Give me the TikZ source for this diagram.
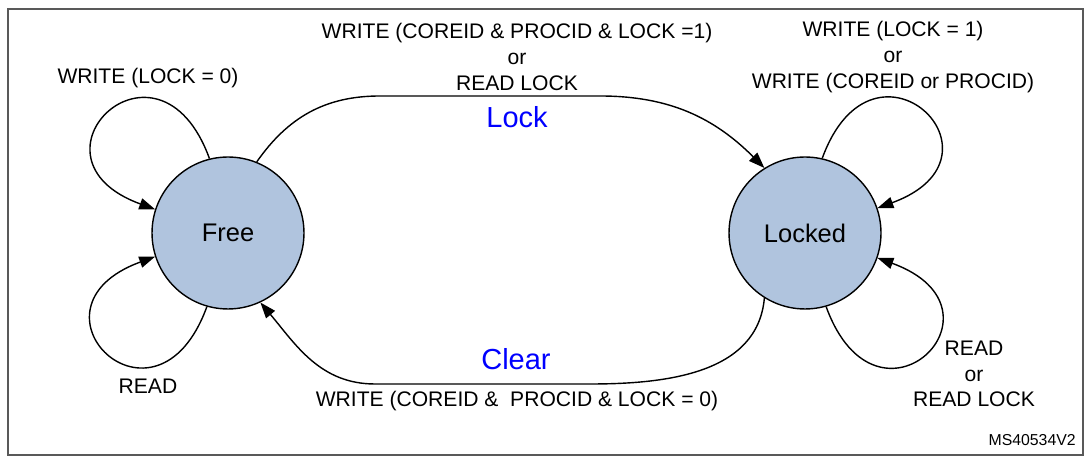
\documentclass[tikz,border=0pt]{standalone}
\usepackage{fontspec}
\setmainfont{Liberation Sans}
\usetikzlibrary{arrows.meta}
\definecolor{stateblue}{RGB}{176,196,222}
\tikzset{
  state/.style={circle,draw,line width=0.8pt,fill=stateblue,minimum size=3.04cm,inner sep=0pt,
    font=\fontsize{14.5}{16}\selectfont},
  txt/.style={align=center,inner sep=0pt,font=\fontsize{12}{14.7}\selectfont},
  tag/.style={text=blue,inner sep=0pt,font=\fontsize{16.5}{18}\selectfont},
  trans/.style={-{Triangle[length=9pt,width=6.5pt]},line width=0.8pt},
}
\begin{document}
\begin{tikzpicture}[x=0.02cm,y=0.02cm]
  \useasboundingbox (0,0) rectangle (1091,462);
  \draw[gray!70!black,line width=0.6pt] (8,7) rectangle (1083,453);

  \node[state] (free) at (228,229) {Free};
  \node[state] (locked) at (805,229) {Locked};

  % self loops
  \draw[trans] (free.104) to[out=110,in=160,distance=3cm] (free.162);
  \draw[trans] (free.254) to[out=250,in=200,distance=3cm] (free.198);
  \draw[trans] (locked.77) to[out=70,in=20,distance=3cm] (locked.19);
  \draw[trans] (locked.286) to[out=290,in=340,distance=3cm] (locked.341);

  % lock / clear
  \coordinate (lockA) at (380,366);
  \coordinate (lockB) at (600,366);
  \coordinate (clearA) at (590,78);
  \coordinate (clearB) at (375,78);
  \draw[trans] (free.68) to[out=55,in=180] (lockA) -- (lockB) to[out=0,in=135] (locked.122);
  \draw[trans] (locked.238) to[out=265,in=0] (clearA) -- (clearB) to[out=180,in=-50] (free.295);

  \node[txt] (wfree) at (148,384) {WRITE (LOCK = 0)};
  \node[txt] (rfree) at (148,76) {READ};
  \node[txt] (wlock) at (517,405) {WRITE (COREID \& PROCID \& LOCK =1)\\or\\READ LOCK};
  \node[tag] (tlock) at (517,345) {Lock};
  \node[tag] (tclear) at (516,103) {Clear};
  \node[txt] (wclear) at (517,61) {WRITE (COREID \&~ PROCID \& LOCK = 0)};
  \node[txt] (wlocked) at (893,405) {WRITE (LOCK = 1)\\or\\WRITE (COREID or PROCID)};
  \node[txt] (rlocked) at (974,88) {READ\\or\\READ LOCK};
  \node[anchor=east,inner sep=0pt,font=\fontsize{9}{10}\selectfont] (ref) at (1076,22) {MS40534V2};
\end{tikzpicture}
\end{document}
